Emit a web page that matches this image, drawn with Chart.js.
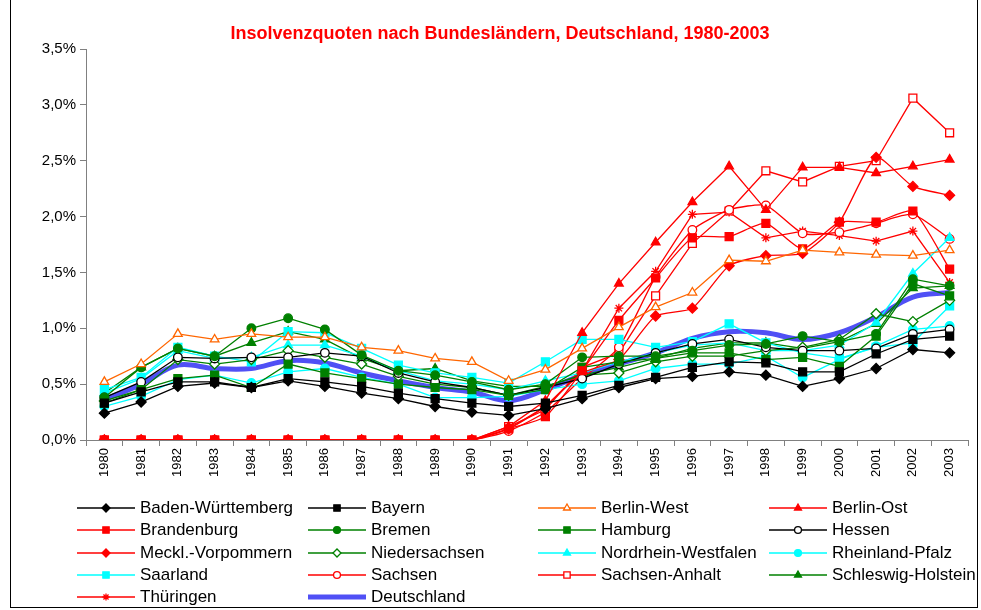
<!DOCTYPE html>
<html>
<head>
<meta charset="utf-8">
<script src="https://cdn.jsdelivr.net/npm/chart.js@4.4.1/dist/chart.umd.min.js"></script>
<style>
  html, body { margin: 0; padding: 0; background: #fff; }
  #wrap { position: relative; width: 981px; height: 610px; font-family: "Liberation Sans", Arial, sans-serif; }
  #frame { position: absolute; left: 10px; top: -1px; width: 968px; height: 609px; border: 1px solid #000; box-sizing: border-box; pointer-events: none; }
  #title { position: absolute; left: 0; width: 1000px; top: 23px; text-align: center; color: #ff0000; font-weight: bold; font-size: 18px; }
  #legend { position: absolute; left: 77px; top: 497px; display: grid; grid-template-columns: 231px 230px 231px 212px; grid-auto-rows: 22.3px; }
  .item { display: flex; align-items: center; white-space: nowrap; font-size: 17px; color: #000; }
  .item canvas { margin-right: 5px; }
</style>
</head>
<body>
<div id="wrap">
  <canvas id="chart" width="981" height="610"></canvas>
  <div id="title">Insolvenzquoten nach Bundesländern, Deutschland, 1980-2003</div>
  <div id="legend"></div>
  <div id="frame"></div>
</div>
<script>
const years = ['1980','1981','1982','1983','1984','1985','1986','1987','1988','1989','1990','1991',
  '1992','1993','1994','1995','1996','1997','1998','1999','2000','2001','2002','2003'];

// Insolvenzquoten in %
const badenWuerttemberg = [0.24,0.34,0.48,0.51,0.47,0.53,0.48,0.42,0.37,0.30,0.25,0.22,0.28,0.37,0.47,0.55,0.57,0.61,0.58,0.48,0.55,0.64,0.81,0.78];
const bayern = [0.33,0.43,0.52,0.52,0.47,0.55,0.52,0.48,0.42,0.37,0.33,0.30,0.33,0.40,0.49,0.56,0.65,0.70,0.69,0.61,0.61,0.77,0.90,0.93];
const berlinWest = [0.52,0.68,0.95,0.90,0.95,0.92,0.92,0.83,0.80,0.73,0.70,0.53,0.63,0.82,1.01,1.19,1.32,1.61,1.60,1.70,1.68,1.66,1.65,1.70];
const berlinOst = [0,0,0,0,0,0,0,0,0,0,0,0.12,0.35,0.96,1.40,1.77,2.13,2.45,2.06,2.44,2.44,2.39,2.45,2.51];
const brandenburg = [0,0,0,0,0,0,0,0,0,0,0,0.10,0.21,0.62,1.07,1.45,1.81,1.82,1.94,1.71,1.95,1.95,2.05,1.53];
const bremen = [0.38,0.65,0.82,0.75,1.00,1.09,0.99,0.76,0.62,0.58,0.52,0.45,0.50,0.74,0.75,0.75,0.80,0.85,0.86,0.93,0.88,0.95,1.44,1.38];
const hamburg = [0.33,0.45,0.55,0.58,0.47,0.68,0.60,0.55,0.50,0.47,0.45,0.40,0.45,0.65,0.70,0.73,0.78,0.78,0.72,0.74,0.66,0.93,1.40,1.29];
const hessen = [0.38,0.52,0.74,0.73,0.74,0.74,0.78,0.75,0.60,0.52,0.47,0.40,0.47,0.55,0.68,0.78,0.86,0.90,0.83,0.80,0.80,0.82,0.95,0.99];
const mecklVorpommern = [0,0,0,0,0,0,0,0,0,0,0,0.10,0.30,0.60,0.72,1.11,1.18,1.56,1.65,1.67,1.95,2.53,2.27,2.19];
const niedersachsen = [0.35,0.45,0.72,0.68,0.72,0.80,0.74,0.68,0.57,0.50,0.47,0.40,0.48,0.58,0.60,0.70,0.75,0.75,0.80,0.83,0.90,1.13,1.06,1.25];
const nrw = [0.42,0.55,0.80,0.73,0.74,0.85,0.85,0.75,0.62,0.53,0.50,0.45,0.53,0.60,0.70,0.78,0.85,0.87,0.80,0.80,0.85,1.05,1.49,1.81];
const rheinlandPfalz = [0.30,0.39,0.54,0.58,0.51,0.61,0.64,0.56,0.50,0.38,0.38,0.39,0.45,0.50,0.53,0.64,0.68,0.68,0.75,0.56,0.72,0.84,0.99,1.02];
const saarland = [0.45,0.56,0.83,0.75,0.70,0.97,0.96,0.82,0.67,0.60,0.56,0.51,0.70,0.90,0.90,0.83,0.88,1.04,0.87,0.78,0.73,0.83,0.87,1.20];
const sachsen = [0,0,0,0,0,0,0,0,0,0,0,0.08,0.25,0.55,0.83,1.46,1.88,2.06,2.10,1.85,1.86,1.94,2.02,1.80];
const sachsenAnhalt = [0,0,0,0,0,0,0,0,0,0,0,0.12,0.27,0.65,0.78,1.29,1.76,2.05,2.41,2.31,2.45,2.50,3.06,2.75];
const schleswigHolstein = [0.42,0.65,0.82,0.75,0.87,0.97,0.90,0.73,0.62,0.64,0.53,0.48,0.48,0.58,0.65,0.73,0.82,0.87,0.87,0.82,0.88,1.04,1.36,1.38];
const thueringen = [0,0,0,0,0,0,0,0,0,0,0,0.10,0.30,0.62,1.18,1.51,2.02,2.04,1.81,1.87,1.83,1.78,1.87,1.41];
const deutschland = [0.36,0.50,0.67,0.64,0.64,0.71,0.69,0.60,0.53,0.47,0.43,0.35,0.45,0.58,0.68,0.78,0.91,0.97,0.96,0.90,0.96,1.10,1.28,1.32];

const yTicks = [0, 0.5, 1, 1.5, 2, 2.5, 3, 3.5];

const BLACK = '#000000', ORANGE = '#ff6600', RED = '#ff0000', GREEN = '#008000', CYAN = '#00ffff', BLUE = '#5050f5';
const markerSize = { rect: 5.6, rectRot: 5, triangle: 5, circle: 4.3, star: 4.5 };

function series(label, data, color, style, open, tension) {
  return {
    label, data,
    borderColor: color,
    backgroundColor: open ? '#ffffff' : color,
    borderWidth: 1.3,
    pointStyle: style,
    pointRadius: markerSize[style],
    pointBorderWidth: 1.3,
    pointBorderColor: color,
    pointBackgroundColor: open ? '#ffffff' : color,
    tension: tension || 0
  };
}

const datasets = [
  series('Baden-Württemberg', badenWuerttemberg, BLACK, 'rectRot', false),
  series('Bayern', bayern, BLACK, 'rect', false),
  series('Berlin-West', berlinWest, ORANGE, 'triangle', true),
  series('Berlin-Ost', berlinOst, RED, 'triangle', false),
  series('Brandenburg', brandenburg, RED, 'rect', false, 0.2),
  series('Bremen', bremen, GREEN, 'circle', false),
  series('Hamburg', hamburg, GREEN, 'rect', false),
  series('Hessen', hessen, BLACK, 'circle', true),
  series('Meckl.-Vorpommern', mecklVorpommern, RED, 'rectRot', false, 0.2),
  series('Niedersachsen', niedersachsen, GREEN, 'rectRot', true),
  series('Nordrhein-Westfalen', nrw, CYAN, 'triangle', false),
  series('Rheinland-Pfalz', rheinlandPfalz, CYAN, 'circle', false),
  series('Saarland', saarland, CYAN, 'rect', false),
  series('Sachsen', sachsen, RED, 'circle', true, 0.2),
  series('Sachsen-Anhalt', sachsenAnhalt, RED, 'rect', true),
  series('Schleswig-Holstein', schleswigHolstein, GREEN, 'triangle', false),
  series('Thüringen', thueringen, RED, 'star', false),
  {
    label: 'Deutschland', data: deutschland, borderColor: BLUE, backgroundColor: BLUE,
    borderWidth: 5, pointRadius: 0, tension: 0.35, order: 1
  }
];

const chart = new Chart(document.getElementById('chart'), {
  type: 'line',
  data: { labels: years, datasets },
  options: {
    responsive: false,
    animation: false,
    layout: { padding: { top: 49, right: 13, bottom: 0, left: 0 } },
    plugins: { legend: { display: false }, tooltip: { enabled: false }, title: { display: false } },
    scales: {
      x: {
        offset: true,
        grid: { offset: true, drawOnChartArea: false, tickLength: 6, color: '#808080' },
        border: { color: '#808080', width: 1 },
        ticks: { color: '#000', font: { family: 'Liberation Sans', size: 13 }, minRotation: 90, maxRotation: 90, autoSkip: false, padding: 2 },
        afterFit: s => { s.height = 170; }
      },
      y: {
        min: 0, max: 3.5,
        afterBuildTicks: s => { s.ticks = yTicks.map(v => ({ value: v })); },
        grid: { drawOnChartArea: false, tickLength: 6, color: '#808080' },
        border: { color: '#808080', width: 1 },
        ticks: {
          color: '#000', font: { family: 'Liberation Sans', size: 15 }, padding: 4,
          callback: v => v.toFixed(1).replace('.', ',') + '%'
        },
        afterFit: s => { s.width = 86; }
      }
    }
  }
});

// Legende: Linie mit Marker, vier Spalten
const legend = document.getElementById('legend');
chart.data.datasets.forEach(ds => {
  const item = document.createElement('div');
  item.className = 'item';
  const c = document.createElement('canvas');
  c.width = 58; c.height = 14;
  const ctx = c.getContext('2d');
  ctx.strokeStyle = ds.borderColor;
  ctx.lineWidth = ds.label === 'Deutschland' ? 5 : 1.5;
  ctx.beginPath(); ctx.moveTo(0, 7); ctx.lineTo(58, 7); ctx.stroke();
  if (ds.pointRadius) {
    ctx.fillStyle = ds.pointBackgroundColor;
    ctx.strokeStyle = ds.pointBorderColor;
    ctx.lineWidth = 1.3;
    Chart.helpers.drawPoint(ctx, { pointStyle: ds.pointStyle, radius: ds.pointRadius * 0.8, borderWidth: 1.3, rotation: 0 }, 29, 7);
  }
  item.appendChild(c);
  const t = document.createElement('span');
  t.textContent = ds.label;
  item.appendChild(t);
  legend.appendChild(item);
});
</script>
</body>
</html>
